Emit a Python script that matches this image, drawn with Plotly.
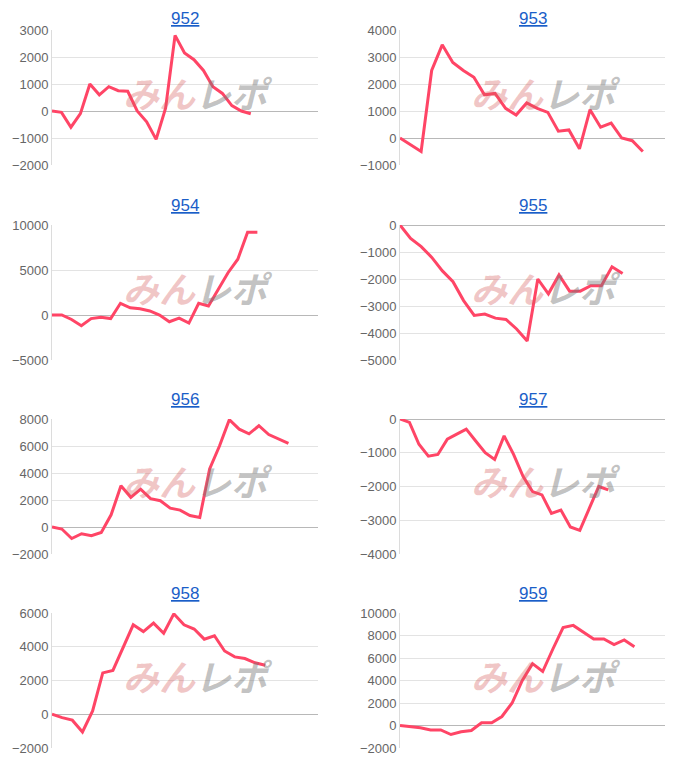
import plotly.graph_objects as go

titles = ["952", "953", "954", "955", "956", "957", "958", "959"]
s952 = [0, -50, -600, -100, 1000, 600, 900, 750, 730, 0, -400, -1050, 100, 2800, 2150, 1900, 1500, 900, 650, 200, 0, -100]
s953 = [0, -250, -500, 2500, 3450, 2800, 2500, 2250, 1600, 1650, 1100, 850, 1300, 1100, 950, 250, 300, -400, 1050, 400, 550, 0, -100, -500]
s954 = [0, 0, -500, -1200, -400, -250, -400, 1300, 800, 700, 450, 0, -750, -350, -900, 1300, 1000, 2800, 4700, 6200, 9200, 9200]
s955 = [0, -500, -800, -1200, -1700, -2100, -2800, -3350, -3300, -3450, -3500, -3850, -4300, -2000, -2550, -1850, -2450, -2450, -2250, -2250, -1550, -1800]
s956 = [0, -150, -850, -500, -650, -400, 900, 3050, 2200, 2800, 2100, 1950, 1400, 1250, 850, 700, 4300, 6000, 7950, 7250, 6900, 7500, 6850, 6550, 6200]
s957 = [0, -100, -750, -1100, -1050, -600, -450, -300, -650, -1000, -1200, -500, -1050, -1700, -2150, -2250, -2800, -2700, -3200, -3300, -2650, -2000, -2100]
s958 = [0, -200, -350, -1050, 200, 2450, 2600, 3900, 5300, 4900, 5400, 4800, 5950, 5300, 5050, 4450, 4650, 3750, 3400, 3300, 3050, 2900]
s959 = [0, -100, -200, -400, -400, -800, -550, -450, 250, 250, 800, 2000, 4000, 5500, 4800, 6800, 8700, 8900, 8300, 7700, 7700, 7200, 7600, 7000]
series = [s952, s953, s954, s955, s956, s957, s958, s959]
x_extent = [28.1, 25.1, 27.2, 25.0, 27.0, 28.0, 26.2, 26.0]
y_ranges = [(-2000, 3000, 1000), (-1000, 4000, 1000), (-5000, 10000, 5000), (-5000, 0, 1000),
            (-2000, 8000, 2000), (-4000, 0, 1000), (-2000, 6000, 2000), (-2000, 10000, 2000)]

W, H = 700, 776
OX, OY = 8, 8  # page body margin
cols = [(52 - OX, 318 - OX), (400 - OX, 665 - OX)]
rows = [(30 - OY, 165 - OY), (225 - OY, 360 - OY), (419 - OY, 554 - OY), (613 - OY, 748 - OY)]

fig = go.Figure()
for i, (t, s) in enumerate(zip(titles, series)):
    r, c = divmod(i, 2)
    n = i + 1
    xa = "x" if n == 1 else f"x{n}"
    ya = "y" if n == 1 else f"y{n}"
    fig.add_trace(go.Scatter(x=list(range(len(s))), y=s, mode="lines",
                             line=dict(color="#ff4566", width=3), xaxis=xa, yaxis=ya,
                             showlegend=False, hoverinfo="skip"))
    x0, x1 = cols[c]
    y0, y1 = rows[r]
    lo, hi, dt = y_ranges[i]
    fig.layout[("xaxis" if n == 1 else f"xaxis{n}")] = dict(
        domain=[x0 / W, x1 / W], range=[0, x_extent[i]], showticklabels=False,
        showgrid=False, zeroline=False, showline=False, anchor=ya, fixedrange=True,
        automargin=False)
    fig.layout[("yaxis" if n == 1 else f"yaxis{n}")] = dict(
        domain=[1 - y1 / H, 1 - y0 / H], range=[lo, hi], dtick=dt, tick0=0, tickformat="d",
        showgrid=True, gridcolor="#e3e3e3", gridwidth=1,
        zeroline=True, zerolinecolor="#b8b8b8", zerolinewidth=1,
        showline=True, linecolor="#dcdcdc", ticks="", ticklen=0,
        tickfont=dict(family="Liberation Sans, Arial", size=13, color="#666666"),
        anchor=xa, fixedrange=True, automargin=False)
    cx = (x0 + x1) / 2 / W
    ty = max(y0 - 20, 11)
    fig.add_annotation(text=f"<u>{t}</u>", x=cx, y=1 - ty / H, xref="paper", yref="paper",
                       xanchor="center", yanchor="middle",
                       showarrow=False, font=dict(family="Liberation Sans, Arial", size=17, color="#1a5ec8"))
    # watermark
    wy = 1 - ((y0 + y1) / 2 - 6) / H
    fig.add_annotation(text="<b><i><span style='color:rgba(214,90,90,0.35)'>みん</span>"
                            "<span style='color:rgba(120,120,120,0.45)'>レポ</span></i></b>",
                       x=(x0 + 146) / W, y=wy, xref="paper", yref="paper",
                       xanchor="center", yanchor="middle",
                       showarrow=False, font=dict(family="Noto Sans CJK JP", size=36))

fig.update_layout(width=W, height=H, margin=dict(l=0, r=0, t=0, b=0, autoexpand=False),
                  plot_bgcolor="white", paper_bgcolor="white")
fig.write_html("out.html")
